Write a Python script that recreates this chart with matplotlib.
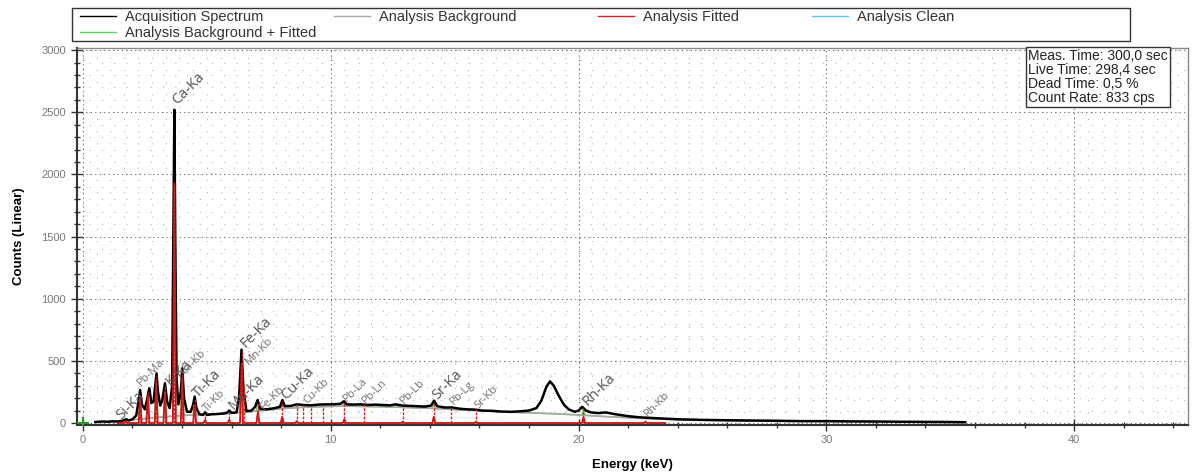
import numpy as np
import matplotlib
matplotlib.use('Agg')
import matplotlib.pyplot as plt
from matplotlib.lines import Line2D
from matplotlib.patches import Rectangle
from matplotlib.ticker import MultipleLocator
from matplotlib import font_manager as fm

avail = {f.name for f in fm.fontManager.ttflist}
NARROW = 'Liberation Sans Narrow' if 'Liberation Sans Narrow' in avail else 'Liberation Sans'
SANS = 'Liberation Sans'
LBL = 'Open Sans'

# measured spectrum (keV, counts)
energy = [0.5, 0.8, 1.0, 1.2, 1.4, 1.6, 1.74, 1.85, 2.0, 2.15, 2.25, 2.31, 2.38, 2.5, 2.6, 2.68, 2.76, 2.85,
          2.92, 2.97, 3.03, 3.12, 3.2, 3.31, 3.4, 3.5, 3.6, 3.65, 3.69, 3.73, 3.78, 3.85, 3.95, 4.01, 4.08,
          4.2, 4.35, 4.45, 4.51, 4.58, 4.7, 4.85, 4.93, 5.0, 5.2, 5.4, 5.6, 5.8, 5.9, 6.0, 6.2, 6.3, 6.4,
          6.48, 6.6, 6.8, 6.95, 7.05, 7.15, 7.4, 7.7, 7.95, 8.05, 8.15, 8.4, 8.63, 8.9, 9.2, 9.5, 9.8,
          10.1, 10.4, 10.53, 10.65, 10.9, 11.2, 11.5, 11.8, 12.1, 12.4, 12.6, 12.9, 13.2, 13.5, 13.8,
          14.05, 14.17, 14.3, 14.6, 14.9, 15.2, 15.5, 15.8, 16.1, 16.5, 16.9, 17.3, 17.7, 18.0, 18.3,
          18.5, 18.7, 18.85, 19.0, 19.2, 19.4, 19.6, 19.85, 20.0, 20.15, 20.3, 20.5, 20.8, 21.1, 21.5,
          22.0, 22.5, 23.0, 23.5, 24.0, 25.0, 26.0, 27.0, 28.0, 29.0, 30.0, 31.0, 32.0, 33.0, 34.0, 35.0, 35.6]
counts = [8, 12, 10, 14, 12, 18, 30, 20, 30, 60, 180, 265, 150, 110, 200, 280, 160, 170,
          300, 400, 250, 140, 180, 320, 170, 120, 300, 1500, 2520, 1400, 350, 150, 250, 440, 200,
          90, 90, 150, 212, 120, 70, 65, 85, 65, 70, 72, 75, 80, 100, 82, 85, 200, 590,
          260, 95, 100, 130, 185, 115, 110, 118, 130, 185, 135, 138, 150, 145, 142, 148, 150,
          150, 155, 175, 150, 148, 150, 145, 148, 145, 142, 150, 140, 138, 135, 132,
          140, 180, 135, 125, 125, 115, 110, 108, 100, 98, 92, 90, 95, 100, 120,
          180, 290, 335, 300, 220, 150, 110, 90, 100, 130, 100, 85, 80, 85, 70,
          55, 45, 40, 35, 30, 25, 22, 20, 18, 15, 15, 13, 12, 10, 9, 8, 6]

# fitted background
bg_energy = [1.0, 1.5, 2.0, 3.0, 4.0, 5.0, 6.0, 7.0, 8.0, 9.0, 10.0, 11.0, 12.0, 13.0, 14.0, 15.0, 16.0,
             17.0, 18.0, 19.0, 20.0, 21.0, 22.0, 23.0, 24.0, 26.0, 28.0, 30.0, 33.0, 35.5]
bg_counts = [5, 12, 25, 45, 60, 70, 80, 95, 115, 128, 135, 135, 132, 125, 118, 108, 98,
             88, 82, 76, 65, 52, 42, 33, 26, 19, 14, 11, 7, 4]

# fitted peaks (net counts)
peak_e = [1.74, 2.31, 2.62, 2.96, 3.31, 3.69, 4.01, 4.51, 4.93, 5.9, 6.40, 7.06, 8.04, 8.63, 10.55,
          12.9, 14.16, 15.86, 20.2, 22.7]
peak_h = [15, 200, 220, 330, 250, 1930, 360, 140, 25, 25, 480, 90, 50, 15, 30, 10, 50, 10, 50, 10]

# element line markers
mark_e = [1.74, 2.31, 2.62, 2.96, 3.31, 3.69, 4.01, 4.46, 4.51, 4.93, 5.9, 6.40, 6.49, 7.06, 8.04,
          8.63, 8.9, 9.2, 9.7, 10.55, 11.35, 12.9, 14.16, 14.86, 15.86, 20.2, 22.7]
mark_h = [20, 230, 250, 380, 300, 1900, 420, 150, 200, 70, 90, 580, 300, 170, 175,
          150, 145, 140, 145, 165, 150, 140, 170, 130, 110, 120, 35]

# line labels: text, keV, counts, big
labels = [('Si-Ka', 1.55, 25, True), ('Pb-Ma', 2.35, 300, False), ('K-Ka', 3.55, 300, True),
          ('Ca-Ka', 3.8, 2560, True), ('Ca-Kb', 4.1, 390, False), ('Ti-Ka', 4.65, 200, True),
          ('Ti-Kb', 5.0, 90, False), ('Mn-Ka', 6.1, 105, True), ('Fe-Ka', 6.55, 600, True),
          ('Mn-Kb', 6.7, 470, False), ('Fe-Kb', 7.3, 105, False), ('Cu-Ka', 8.2, 185, True),
          ('Cu-Kb', 9.05, 150, False), ('Pb-La', 10.65, 170, False), ('Pb-Ln', 11.4, 150, False),
          ('Pb-Lb', 12.95, 150, False), ('Sr-Ka', 14.3, 185, True), ('Pb-Lg', 14.95, 145, False),
          ('Sr-Kb', 15.95, 115, False), ('Rh-Ka', 20.35, 140, True), ('Rh-Kb', 22.8, 50, False)]

info = 'Meas. Time: 300,0 sec\nLive Time: 298,4 sec\nDead Time: 0,5 %\nCount Rate: 833 cps'

fig = plt.figure(figsize=(11.97, 4.72), dpi=100)
ax = fig.add_axes([0.0643, 0.0996, 0.9283, 0.7984])
ax.set_xlim(-0.24, 44.6)
ax.set_ylim(-16, 3016)

# grid
for x in np.arange(0, 44.6, 10 / 18):
    ax.axvline(x, color='#b4b4b4', ls=(0, (1, 10)), lw=0.8, zorder=0)
for y in np.arange(0, 3001, 100):
    ax.axhline(y, color='#b4b4b4', ls=(0, (1, 10)), lw=0.8, zorder=0)
for x in np.arange(0, 44.6, 10):
    ax.axvline(x, color='#666666', ls=(0, (1, 3)), lw=0.8, zorder=0)
for y in np.arange(0, 3001, 500):
    ax.axhline(y, color='#666666', ls=(0, (1, 3)), lw=0.8, zorder=0)

# fitted curve as narrow peaks over zero line
fit_x, fit_y = [1.4], [0]
for e, h in zip(peak_e, peak_h):
    fit_x += [e - 0.06, e, e + 0.06]
    fit_y += [0, h, 0]
fit_x.append(23.5); fit_y.append(0)
bgf_y = np.interp(fit_x, bg_energy, bg_counts) + np.array(fit_y)

ax.plot(fit_x, bgf_y, color='#5ad25a', lw=1, zorder=2)
ax.plot(bg_energy, bg_counts, color='#a8a8a8', lw=1.2, zorder=2)
ax.plot(energy, counts, color='black', lw=1.8, zorder=3)
ax.plot(fit_x, fit_y, color='#c81414', lw=1.3, zorder=4)
ax.vlines(mark_e, 0, mark_h, color='#e02020', lw=1, ls=(0, (2, 1)), zorder=4)
ax.plot([0], [0], '+', color='#2a9a2a', ms=9, mew=1.5, zorder=5)

for t, e, c, big in labels:
    ax.text(e, c, t, rotation=45, rotation_mode='anchor', ha='left', va='baseline',
            fontsize=10.5 if big else 8, color='#555555' if big else '#707070', family=LBL, zorder=6)

ax.text(0.856, 0.997, info, transform=ax.transAxes, ha='left', va='top', fontsize=10, family=SANS,
        color='#222222', linespacing=1.0, zorder=7,
        bbox=dict(boxstyle='square,pad=0.15', fc='white', ec='#333333', lw=1))

# ticks
ax.xaxis.set_major_locator(MultipleLocator(10))
ax.xaxis.set_minor_locator(MultipleLocator(2))
ax.yaxis.set_major_locator(MultipleLocator(500))
ax.yaxis.set_minor_locator(MultipleLocator(100))
ax.tick_params(which='major', direction='inout', length=9, width=1, color='#333333',
               labelsize=8, labelcolor='#777777')
ax.tick_params(which='minor', direction='inout', length=5, width=1, color='#333333')
for lab in ax.get_xticklabels() + ax.get_yticklabels():
    lab.set_family(NARROW)
ax.tick_params(axis='x', pad=3)
for s in ['left', 'bottom']:
    ax.spines[s].set_color('#333333'); ax.spines[s].set_linewidth(1.5)
for s in ['top', 'right']:
    ax.spines[s].set_color('#888888'); ax.spines[s].set_linewidth(1)

ax.set_xlabel('Energy (keV)', fontsize=9.5, weight='bold', family=NARROW, labelpad=10)
ax.set_ylabel('Counts (Linear)', fontsize=9.5, weight='bold', family=NARROW, labelpad=12)

# legend: four columns inside one frame
cols = [([('black', 'Acquisition Spectrum'), ('#5ad25a', 'Analysis Background + Fitted')], 80),
        ([('#a8a8a8', 'Analysis Background')], 334),
        ([('#e02020', 'Analysis Fitted')], 598),
        ([('#5bc8f0', 'Analysis Clean')], 812)]
for items, px in cols:
    hs = [Line2D([], [], color=c, lw=1) for c, _ in items]
    leg = fig.legend(hs, [n for _, n in items], loc='upper left', bbox_to_anchor=(px / 1197, 1 - 10 / 472),
                     prop={'family': SANS, 'size': 10.5}, frameon=False, handlelength=2.5,
                     handletextpad=0.6, borderpad=0, labelspacing=0.15, borderaxespad=0)
    for txt in leg.get_texts():
        txt.set_color('#333333')
fig.add_artist(Rectangle((72 / 1197, 1 - 41 / 472), 1058 / 1197, 33 / 472, transform=fig.transFigure,
                         fill=False, ec='#333333', lw=1))

fig.savefig('out.png', dpi=100)
